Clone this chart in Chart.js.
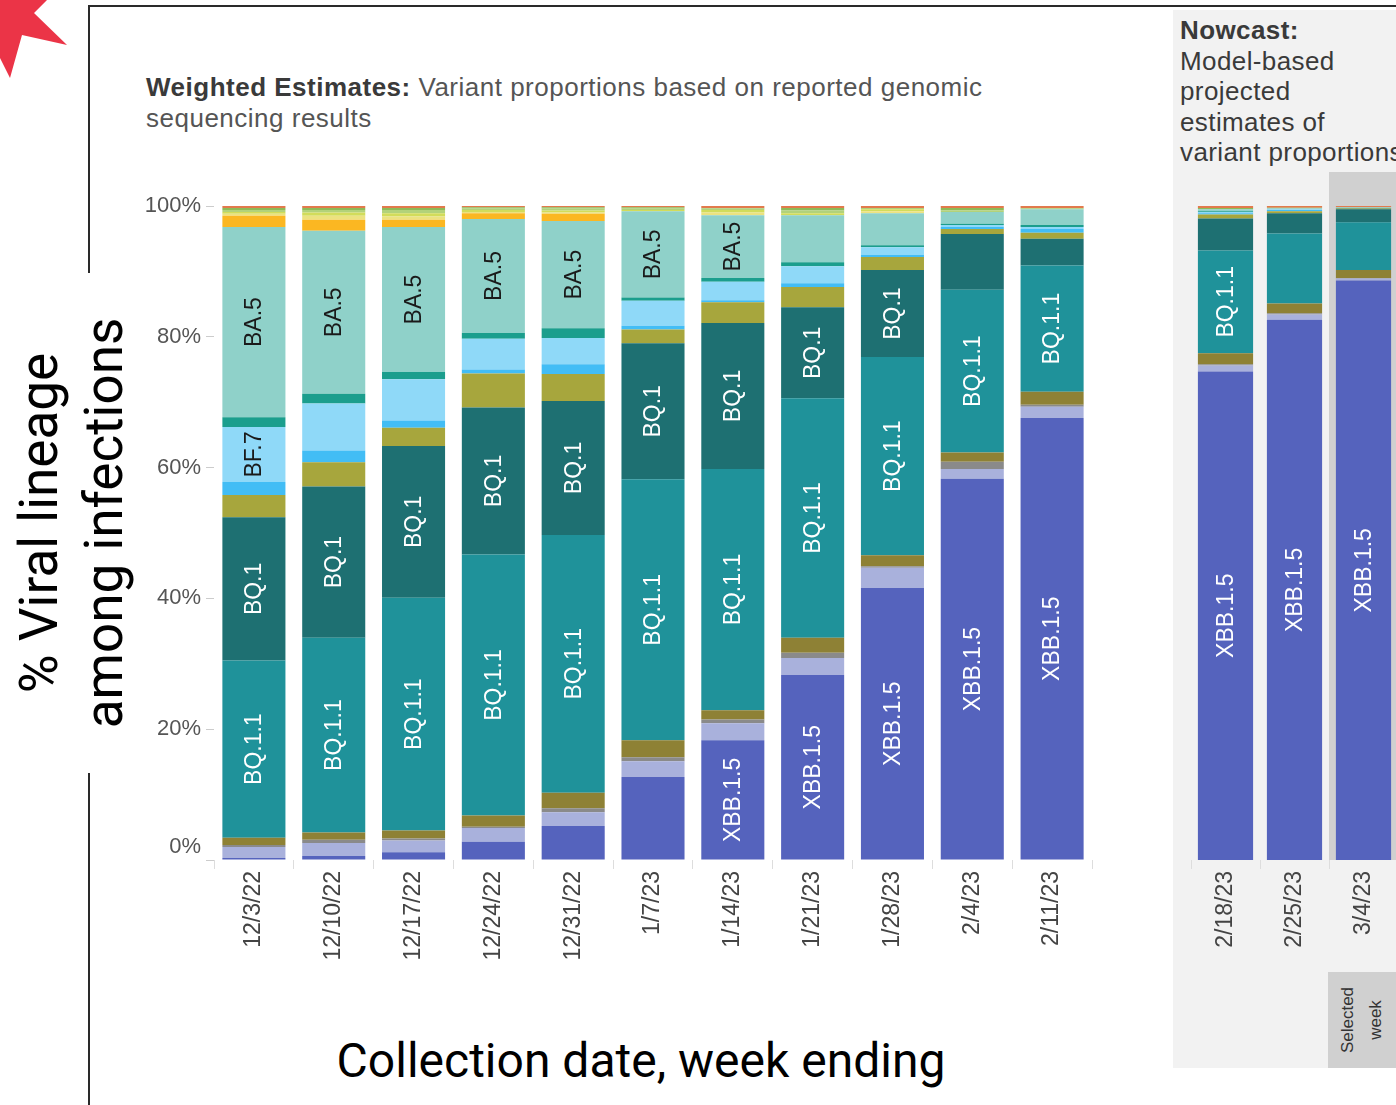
<!DOCTYPE html>
<html>
<head>
<meta charset="utf-8">
<script src="https://cdn.jsdelivr.net/npm/chart.js@4.4.1/dist/chart.umd.min.js"></script>
<style>
  html, body { margin: 0; padding: 0; }
  body { width: 1396px; height: 1105px; overflow: hidden; position: relative; background: #fff;
         font-family: "Liberation Sans", Arial, sans-serif; }
  .abs { position: absolute; }
  #frameTop { left: 88px; top: 5px; width: 1320px; height: 2px; background: #2a2a2a; }
  #frameLeft { left: 88px; top: 5px; width: 2px; height: 1100px; background: #2a2a2a; }
  #nowPanel { left: 1173px; top: 10px; width: 230px; height: 1058px; background: #f2f2f2; }
  #yTitle { left: 72px; top: 523px; width: 500px; transform: translate(-50%, -50%) rotate(-90deg);
            background: #fff; text-align: center; font-family: Roboto, sans-serif; font-size: 53px;
            line-height: 65px; color: #000; }
  #xTitle { left: 641px; top: 1033px; transform: translateX(-50%); white-space: nowrap;
            font-family: Roboto, sans-serif; font-size: 48px; line-height: 56px; color: #000; }
  #subTitle { left: 146px; top: 72px; font-size: 26px; line-height: 31px; color: #555; white-space: nowrap;
              letter-spacing: 0.5px; }
  #subTitle b { color: #3a3a3a; }
  #nowTitle { left: 1180px; top: 15px; font-size: 26px; line-height: 30.5px; color: #3a3a3a; white-space: nowrap;
              letter-spacing: 0.4px; }
  #selBox { left: 1328px; top: 972px; width: 80px; height: 96px; background: #d0d0d0; }
  #selText { left: 1362px; top: 1020px; transform: translate(-50%, -50%) rotate(-90deg); width: 96px;
             text-align: center; font-size: 17px; line-height: 28px; color: #333; }
  canvas { position: absolute; }
  #weighted { left: 100px; top: 150px; }
  #nowcast { left: 1174px; top: 150px; }
</style>
</head>
<body>
<svg class="abs" style="left:0;top:0" width="80" height="90">
  <polygon points="0,0 47,0 34,13 67,45 22,35 10,78 0,58" fill="#eb3447"/>
</svg>
<div id="frameTop" class="abs"></div>
<div id="frameLeft" class="abs"></div>
<div id="nowPanel" class="abs"></div>
<div id="yTitle" class="abs">% Viral lineage<br>among infections</div>
<div id="subTitle" class="abs"><b>Weighted Estimates:</b> Variant proportions based on reported genomic<br>sequencing results</div>
<div id="nowTitle" class="abs"><b>Nowcast:</b><br>Model-based<br>projected<br>estimates of<br>variant proportions</div>
<div id="selBox" class="abs"></div>
<div id="selText" class="abs">Selected<br>week</div>
<div id="xTitle" class="abs">Collection date, week ending</div>
<canvas id="weighted" width="1000" height="860"></canvas>
<canvas id="nowcast" width="226" height="860"></canvas>
<script>
// weeks: first 11 are weighted estimates, last 3 are nowcast
var weeks = ['12/3/22', '12/10/22', '12/17/22', '12/24/22', '12/31/22', '1/7/23', '1/14/23',
             '1/21/23', '1/28/23', '2/4/23', '2/11/23'];
var nowcastWeeks = ['2/18/23', '2/25/23', '3/4/23'];
var selectedWeek = '3/4/23';

// proportions (%) per week, 11 weighted + 3 nowcast, stacked bottom to top
var xbb15   = [0.3, 0.6, 1.2, 2.8, 5.2, 12.7, 18.3, 28.3, 41.6, 58.3, 67.6, 74.7, 82.6, 88.6];
var xbb     = [1.7, 2.0, 1.8, 2.1, 2.1, 2.4, 2.6, 2.6, 3.1, 1.5, 1.7, 0.9, 0.8, 0.3];
var ch11    = [0.3, 0.5, 0.3, 0.2, 0.6, 0.6, 0.6, 0.8, 0.2, 1.1, 0.3, 0.2, 0.2, 0.1];
var bn1     = [1.1, 1.1, 1.2, 1.7, 2.4, 2.6, 1.4, 2.3, 1.7, 1.4, 2.0, 1.7, 1.5, 1.2];
var bq11    = [27.1, 29.8, 35.6, 39.9, 39.4, 39.9, 36.9, 36.6, 30.3, 24.9, 19.3, 15.7, 10.7, 7.3];
var bq1     = [21.9, 23.1, 23.2, 22.5, 20.5, 20.8, 22.3, 13.9, 13.3, 8.5, 4.1, 4.9, 3.1, 2.0];
var ba275   = [3.4, 3.7, 2.8, 5.2, 4.1, 2.1, 3.2, 3.1, 2.0, 0.8, 0.9, 0.6, 0.3, 0.1];
var ba5226  = [2.0, 1.8, 1.1, 0.6, 1.5, 0.6, 0.3, 0.6, 0.3, 0.3, 0.6, 0.2, 0.2, 0];
var bf7     = [8.4, 7.2, 6.3, 4.7, 4.0, 3.8, 2.8, 2.6, 1.2, 0.3, 0.3, 0.2, 0.1, 0];
var ba46    = [1.5, 1.5, 1.1, 0.9, 1.5, 0.5, 0.6, 0.6, 0.3, 0.2, 0.3, 0.1, 0.05, 0.1];
var ba5     = [29.1, 24.9, 22.2, 17.4, 16.4, 13.2, 9.6, 7.2, 4.9, 1.8, 2.4, 0.3, 0.1, 0.1];
var ba2752  = [1.7, 1.7, 1.1, 0.9, 1.1, 0, 0, 0, 0, 0, 0, 0, 0, 0];
var bf11    = [0.3, 0.6, 0.5, 0.2, 0.2, 0, 0.4, 0, 0.3, 0, 0, 0, 0, 0];
var ba4     = [0.3, 0.5, 0.5, 0.3, 0.3, 0.2, 0.4, 0.3, 0.3, 0, 0, 0, 0, 0];
var ba2121  = [0.3, 0.4, 0.5, 0.2, 0.3, 0.2, 0.2, 0.4, 0.2, 0.2, 0.1, 0, 0, 0];
var ba2     = [0.3, 0.3, 0.3, 0.2, 0.2, 0.2, 0.1, 0.4, 0, 0.4, 0.1, 0.2, 0.1, 0];
var other   = [0.3, 0.3, 0.3, 0.2, 0.2, 0.2, 0.3, 0.3, 0.3, 0.3, 0.3, 0.3, 0.25, 0.2];

var lineages = [
    ['XBB.1.5', xbb15, '#5563bd'],
    ['XBB', xbb, '#a9b1dc'],
    ['CH.1.1', ch11, '#8a8a8a'],
    ['BN.1', bn1, '#8e8135'],
    ['BQ.1.1', bq11, '#1f929a'],
    ['BQ.1', bq1, '#1e7072'],
    ['BA.2.75', ba275, '#a7a63d'],
    ['BA.5.2.6', ba5226, '#42bdf5'],
    ['BF.7', bf7, '#8fd9f8'],
    ['BA.4.6', ba46, '#1b9e8d'],
    ['BA.5', ba5, '#8fd1c9'],
    ['BA.2.75.2', ba2752, '#fbb722'],
    ['BF.11', bf11, '#ece27f'],
    ['BA.4', ba4, '#d2dc5a'],
    ['BA.2.12.1', ba2121, '#b2d27a'],
    ['BA.2', ba2, '#8dbb57'],
    ['Other', other, '#e27a4d']
];

// lineages that get a name written inside their segment
var labelled = ['BA.5', 'BF.7', 'BQ.1', 'BQ.1.1', 'XBB.1.5'];
var darkText = ['BA.5', 'BF.7'];

Chart.defaults.font.family = '"Liberation Sans", Arial, sans-serif';

function makeSets(from, to) {
    return lineages.map(function(l) {
        return {
            label: l[0],
            data: l[1].slice(from, to),
            backgroundColor: l[2],
            borderWidth: 0,
            barPercentage: from === 0 ? 0.79 : 0.8,
            categoryPercentage: 1
        };
    });
}

var segmentLabels = {
    id: 'segmentLabels',
    afterDatasetsDraw: function(chart) {
        var ctx = chart.ctx;
        ctx.save();
        ctx.font = '23px "Liberation Sans", Arial, sans-serif';
        ctx.textAlign = 'center';
        ctx.textBaseline = 'middle';
        chart.data.datasets.forEach(function(ds, i) {
            if (labelled.indexOf(ds.label) < 0) return;
            var w = ctx.measureText(ds.label).width;
            chart.getDatasetMeta(i).data.forEach(function(bar) {
                var h = Math.abs(bar.base - bar.y);
                if (h < w + 5) return;
                ctx.save();
                ctx.translate(bar.x, (bar.y + bar.base) / 2);
                ctx.rotate(-Math.PI / 2);
                ctx.fillStyle = darkText.indexOf(ds.label) >= 0 ? '#1a1a1a' : '#ffffff';
                ctx.fillText(ds.label, 0, 1);
                ctx.restore();
            });
        });
        ctx.restore();
    }
};

// grey column behind the selected nowcast week
var selectedColumn = {
    id: 'selectedColumn',
    beforeDatasetsDraw: function(chart) {
        var xs = chart.scales.x;
        var idx = chart.data.labels.indexOf(selectedWeek);
        if (idx < 0) return;
        var half = (xs.getPixelForTick(1) - xs.getPixelForTick(0)) / 2;
        var x0 = xs.getPixelForTick(idx) - half;
        var area = chart.chartArea;
        chart.ctx.save();
        chart.ctx.fillStyle = '#d0d0d0';
        chart.ctx.fillRect(x0, area.top - 34, chart.width - x0, area.bottom - area.top + 34);
        chart.ctx.restore();
    }
};

function xScale() {
    return {
        stacked: true,
        grid: { drawOnChartArea: false, tickLength: 9, color: '#dddddd' },
        border: { display: false },
        ticks: { minRotation: 90, maxRotation: 90, autoSkip: false, padding: 2,
                 color: '#444', font: { size: 23 } },
        afterFit: function(s) { s.height = 150; }
    };
}

var weighted = new Chart(document.getElementById('weighted'), {
    type: 'bar',
    data: { labels: weeks, datasets: makeSets(0, 11) },
    options: {
        responsive: false,
        animation: false,
        layout: { padding: { top: 56, right: 8, left: 0, bottom: 0 } },
        plugins: { legend: { display: false }, tooltip: { enabled: false } },
        scales: {
            x: xScale(),
            y: {
                stacked: true, min: 0, max: 100,
                border: { display: false },
                grid: { drawOnChartArea: false, tickLength: 8, color: '#cccccc' },
                ticks: {
                    stepSize: 20, padding: 5, color: '#555', font: { size: 22 },
                    callback: function(v) { return v === 0 ? ['0%', ''] : v + '%'; }
                },
                afterFit: function(s) { s.width = 114; }
            }
        }
    },
    plugins: [segmentLabels]
});

var nowcast = new Chart(document.getElementById('nowcast'), {
    type: 'bar',
    data: { labels: nowcastWeeks, datasets: makeSets(11, 14) },
    options: {
        responsive: false,
        animation: false,
        layout: { padding: { top: 56, right: 2, left: 17, bottom: 0 } },
        plugins: { legend: { display: false }, tooltip: { enabled: false } },
        scales: {
            x: xScale(),
            y: { stacked: true, min: 0, max: 100, display: false }
        }
    },
    plugins: [selectedColumn, segmentLabels]
});
</script>
</body>
</html>
